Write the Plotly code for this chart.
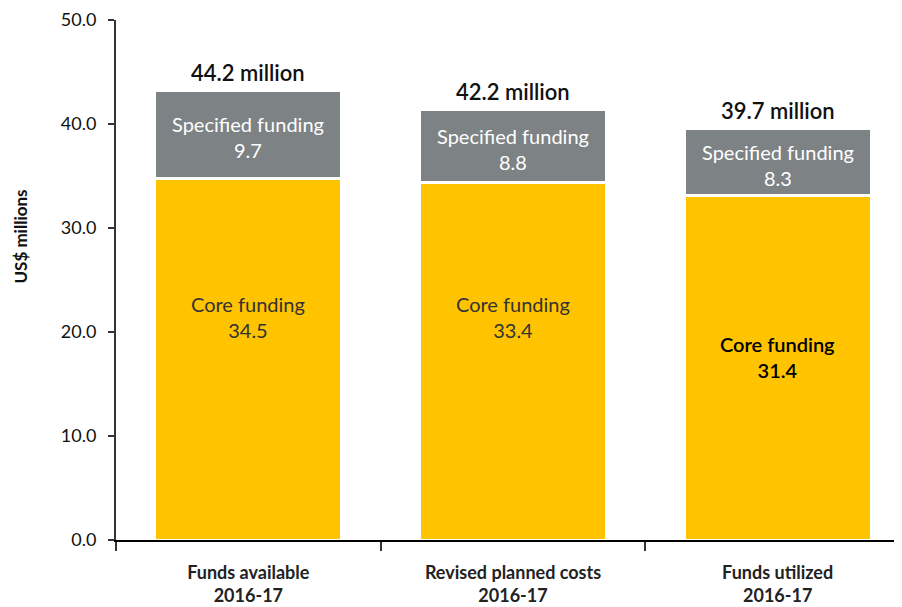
import plotly.graph_objects as go

categories = ["Funds available<br>2016-17", "Revised planned costs<br>2016-17", "Funds utilized<br>2016-17"]
core_drawn = [34.8, 34.4, 33.1]        # heights as drawn in the picture
spec_drawn = [8.4, 7.0, 6.5]
core_labels = ["34.5", "33.4", "31.4"]  # values printed on the bars
spec_labels = ["9.7", "8.8", "8.3"]
total_labels = ["44.2", "42.2", "39.7"]
y_ticks = [0, 10, 20, 30, 40, 50]

YELLOW = "#FFC300"
GRAY = "#7D8284"
FONT = "Lato"

fig = go.Figure()
fig.add_trace(go.Bar(x=categories, y=core_drawn, name="Core funding",
                     marker=dict(color=YELLOW, line=dict(color="white", width=3)),
                     width=0.707, hoverinfo="skip"))
fig.add_trace(go.Bar(x=categories, y=spec_drawn, name="Specified funding",
                     marker=dict(color=GRAY, line=dict(color="white", width=3)),
                     width=0.707, hoverinfo="skip"))

ann = []
core_label_pos = [21.4, 21.4, 17.6]
core_colors = ["#333333", "#333333", "#000000"]
core_weights = ["normal", "normal", 600]
for i, c in enumerate(categories):
    top = core_drawn[i] + spec_drawn[i]
    ann.append(dict(x=c, y=top, text=f"{total_labels[i]} million", showarrow=False,
                    yanchor="middle", yshift=18,
                    font=dict(family=FONT, size=22, color="#111111", weight=600)))
    ann.append(dict(x=c, y=core_drawn[i] + spec_drawn[i] / 2,
                    text=f"Specified funding<br>{spec_labels[i]}", showarrow=False,
                    yanchor="middle", yshift=-3,
                    font=dict(family=FONT, size=20, color="white")))
    ann.append(dict(x=c, y=core_label_pos[i],
                    text=f"Core funding<br>{core_labels[i]}", showarrow=False,
                    yanchor="middle",
                    font=dict(family=FONT, size=20, color=core_colors[i],
                              weight=core_weights[i])))
ann.append(dict(xref="paper", yref="paper", x=-0.12, y=0.583, text="US$ millions",
                textangle=-90, showarrow=False, xanchor="center", yanchor="middle",
                font=dict(family=FONT, size=17, color="#111111", weight="bold")))

fig.update_layout(
    barmode="stack",
    width=902, height=607,
    margin=dict(l=108, r=0, t=12, b=75),
    plot_bgcolor="white", paper_bgcolor="white",
    showlegend=False,
    annotations=ann,
    font=dict(family=FONT),
    xaxis=dict(range=[-0.5, 2.5], showline=True, linecolor="black", linewidth=2,
               ticks="outside", tickson="boundaries", ticklen=9, tickcolor="#333333",
               tickwidth=2, showgrid=False, zeroline=False, ticklabelstandoff=15,
               tickfont=dict(family=FONT, size=18, color="#222222", weight="bold")),
    yaxis=dict(range=[0, 50], tickvals=y_ticks, ticktext=[f"{v:.1f}" for v in y_ticks],
               showline=True, linecolor="#333333", linewidth=2, ticks="outside",
               ticklen=6, tickwidth=1.5, tickcolor="#333333", showgrid=False,
               zeroline=False, ticklabelstandoff=8,
               tickfont=dict(family=FONT, size=18, color="#111111")),
)

fig.write_html("out.html")
